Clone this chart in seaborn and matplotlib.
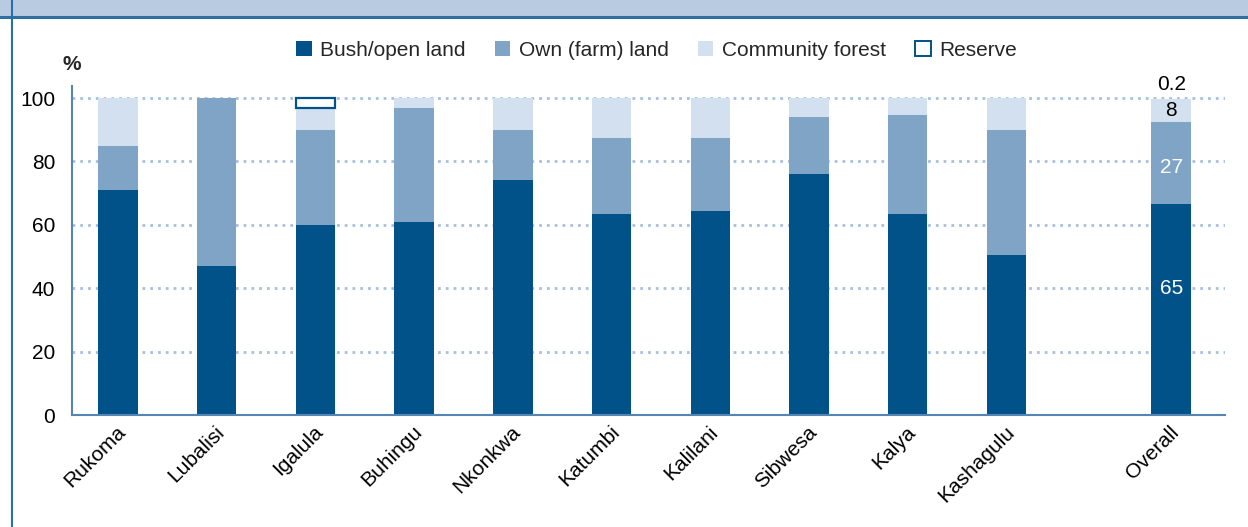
import numpy as np
import pandas as pd
import matplotlib
matplotlib.use("Agg")
import matplotlib.pyplot as plt
import matplotlib.transforms as mtransforms
from matplotlib.patches import Patch, Rectangle
from matplotlib.lines import Line2D
import seaborn as sns

# ---- data ----
sites = ["Rukoma", "Lubalisi", "Igalula", "Buhingu", "Nkonkwa", "Katumbi",
         "Kalilani", "Sibwesa", "Kalya", "Kashagulu", "Overall"]
bush = [71, 47, 60, 61, 74, 63.5, 64.5, 76, 63.5, 50.5, 66.5]
own = [14, 53, 30, 36, 16, 24, 23, 18, 31, 39.5, 26]
forest = [15, 0, 7, 3, 10, 12.5, 12.5, 6, 5.5, 10, 7.3]
reserve = [0, 0, 3, 0, 0, 0, 0, 0, 0, 0, 0.2]
overall_labels = ["65", "27", "8", "0.2"]
legend_labels = ["Bush/open land", "Own (farm) land", "Community forest", "Reserve"]
y_ticks = [0, 20, 40, 60, 80, 100]

# ---- colours ----
c_bush = "#005288"
c_own = "#7fa4c6"
c_forest = "#d3e0ef"
c_grid = "#a9c0db"
c_spine = "#5585b5"
c_band = "#b8cbe0"
c_frame = "#2d6ea3"

sns.set_theme(style="white")
plt.rcParams["font.family"] = ["Liberation Sans", "DejaVu Sans"]
fs = 15

# x positions: wider gap before the "Overall" bar
pos = list(np.arange(len(sites) - 1, dtype=float)) + [len(sites) - 1 + 0.67]

df = pd.DataFrame({"site": sites, "pos": pos, "bush": bush, "own": own,
                   "forest": forest, "reserve": reserve})
df["base_own"] = df["bush"]
df["base_forest"] = df["bush"] + df["own"]
df["base_reserve"] = df["base_forest"] + df["forest"]

fig = plt.figure(figsize=(12.48, 5.27), dpi=100)
ax = fig.add_axes([0.0577, 0.2125, 0.9239, 0.6243])

common = dict(x="pos", native_scale=True, width=0.4, saturation=1,
              errorbar=None, ax=ax)
sns.barplot(data=df, y="bush", color=c_bush, linewidth=0, **common)
sns.barplot(data=df, y="own", bottom=df["base_own"].to_numpy(),
            color=c_own, linewidth=0, **common)
sns.barplot(data=df, y="forest", bottom=df["base_forest"].to_numpy(),
            color=c_forest, linewidth=0, **common)
# the 0.2 reserve slice of "Overall" is too thin to show in the original
res = df[df["reserve"] > 1]
sns.barplot(data=res, y="reserve", bottom=res["base_reserve"].to_numpy(),
            color="white", edgecolor=c_bush, linewidth=1.6, **common)

# ---- axes styling ----
ax.set_xlim(-0.466, 11.215)
ax.set_ylim(0, 103.8)
ax.set_xlabel("")
ax.set_ylabel("")
ax.set_yticks(y_ticks)
ax.set_yticklabels([str(t) for t in y_ticks], fontsize=fs, color="black")
ax.set_xticks(pos)
ax.set_xticklabels(sites, rotation=45, ha="right", va="center",
                   rotation_mode="anchor", fontsize=fs, color="black")
ax.tick_params(axis="both", length=0)
ax.tick_params(axis="y", pad=12)
ax.tick_params(axis="x", pad=10)
# nudge the rotated labels a little to the right, like the original
shift = mtransforms.ScaledTranslation(5 / 100, 0, fig.dpi_scale_trans)
for lbl in ax.get_xticklabels():
    lbl.set_transform(lbl.get_transform() + shift)
for s in ["top", "right"]:
    ax.spines[s].set_visible(False)
for s in ["left", "bottom"]:
    ax.spines[s].set_color(c_spine)
    ax.spines[s].set_linewidth(1.5)
ax.set_axisbelow(True)
ax.yaxis.grid(True, linestyle=(0, (1, 1.8)), color=c_grid, linewidth=2)
ax.xaxis.grid(False)

# ---- value labels on the Overall bar ----
ov = df.iloc[-1]
x_ov = ov["pos"]
ax.text(x_ov, ov["bush"] * 0.6, overall_labels[0], color="white",
        ha="center", va="center", fontsize=fs)
ax.text(x_ov, ov["bush"] + ov["own"] / 2 - 1.5, overall_labels[1], color="white",
        ha="center", va="center", fontsize=fs)
ax.text(x_ov, ov["base_forest"] + ov["forest"] / 2, overall_labels[2],
        color="black", ha="center", va="center", fontsize=fs)
ax.text(x_ov, 101.3, overall_labels[3], color="black", ha="center",
        va="bottom", fontsize=fs, clip_on=False)

# ---- legend ----
handles = [Patch(facecolor=c_bush, edgecolor="none"),
           Patch(facecolor=c_own, edgecolor="none"),
           Patch(facecolor=c_forest, edgecolor="none"),
           Patch(facecolor="white", edgecolor=c_bush, linewidth=1.4)]
fig.legend(handles, legend_labels, loc="center", bbox_to_anchor=(0.526, 1 - 50 / 527),
           ncol=4, frameon=False, handlelength=0.75, handleheight=0.75,
           handletextpad=0.4, columnspacing=1.4, fontsize=fs)

fig.text(72 / 1248, 1 - 64 / 527, "%", ha="center", va="center",
         fontsize=fs, fontweight="bold")

# ---- frame: top band and left border ----
fig.add_artist(Rectangle((0, 1 - 16 / 527), 1, 16 / 527, transform=fig.transFigure,
                         facecolor=c_band, edgecolor="none"))
fig.add_artist(Line2D([0, 1], [1 - 16.5 / 527] * 2, transform=fig.transFigure,
                      color=c_frame, linewidth=2.2))
fig.add_artist(Line2D([12 / 1248] * 2, [0, 1], transform=fig.transFigure,
                      color=c_frame, linewidth=1.5))

fig.savefig("out.png", dpi=100)
